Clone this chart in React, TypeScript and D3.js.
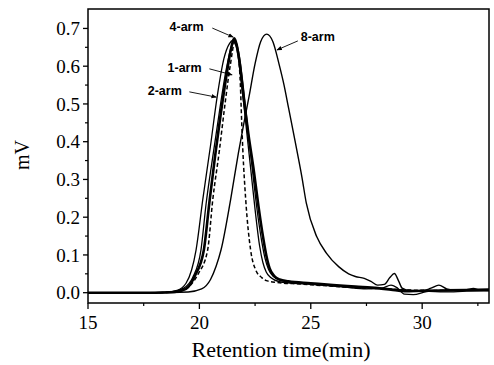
import React from "react";
import * as d3 from "d3";

// GPC traces, [retention time (min), signal (mV)]
const arm1: [number, number][] = [
  [15, 0], [18, 0], [19, 0.003], [19.5, 0.015], [19.95, 0.05], [20.37, 0.113], [20.6, 0.246],
  [20.9, 0.378], [21.15, 0.5], [21.38, 0.6], [21.6, 0.665], [21.75, 0.63], [21.84, 0.55],
  [21.9, 0.45], [21.95, 0.378], [22.08, 0.246], [22.3, 0.113], [22.53, 0.06], [22.8, 0.04],
  [23, 0.032], [23.5, 0.027], [24.5, 0.023], [25.5, 0.019], [26.5, 0.015], [27.5, 0.012],
  [28.5, 0.01], [29.5, 0.007], [30.5, 0.006], [31.5, 0.007], [33, 0.008],
];

const arm2: [number, number][] = [
  [15, 0], [17, 0], [18.5, 0.001], [19, 0.006], [19.4, 0.025], [19.65, 0.06], [19.85, 0.113],
  [20.15, 0.246], [20.5, 0.39], [20.8, 0.52], [21.1, 0.62], [21.35, 0.66], [21.5, 0.668],
  [21.7, 0.64], [21.9, 0.55], [22.1, 0.44], [22.3, 0.33], [22.5, 0.22], [22.7, 0.125],
  [22.85, 0.08], [23.0, 0.055], [23.2, 0.04], [23.6, 0.029], [24.5, 0.024], [25.5, 0.02],
  [26.5, 0.015], [27.5, 0.01], [28.2, 0.012], [28.6, 0.02], [28.9, 0.012], [29.2, -0.004],
  [29.6, -0.005], [30.2, 0.003], [31, 0.006], [32, 0.007], [33, 0.007],
];

const armX: [number, number][] = [
  [15, 0], [18, 0], [18.8, 0.003], [19.3, 0.012], [19.7, 0.04], [20.07, 0.113], [20.3, 0.235],
  [20.6, 0.36], [20.9, 0.48], [21.2, 0.59], [21.45, 0.655], [21.6, 0.668], [21.8, 0.625],
  [22.0, 0.53], [22.2, 0.42], [22.4, 0.315], [22.6, 0.215], [22.8, 0.135], [22.95, 0.09],
  [23.1, 0.062], [23.3, 0.044], [23.6, 0.034], [25, 0.023], [26, 0.019], [27, 0.015],
  [28, 0.012], [29, 0.008], [30, 0.004], [31, 0.002], [32, 0.004], [33, 0.005],
];

const arm4: [number, number][] = [
  [15, 0], [18, 0], [18.9, 0.002], [19.4, 0.01], [19.8, 0.045], [20.2, 0.113], [20.45, 0.24],
  [20.7, 0.36], [20.95, 0.47], [21.2, 0.57], [21.4, 0.64], [21.56, 0.674], [21.79, 0.616],
  [22.0, 0.51], [22.2, 0.42], [22.45, 0.32], [22.65, 0.23], [22.85, 0.15], [23.0, 0.1],
  [23.15, 0.065], [23.35, 0.045], [23.6, 0.035], [24, 0.03], [25, 0.025], [26, 0.02],
  [27, 0.016], [28, 0.012], [28.6, 0.008], [29.2, 0.004], [30, 0.005], [31, 0.006],
  [32, 0.007], [33, 0.008],
];

const arm8: [number, number][] = [
  [15, 0], [18, 0], [19.5, 0.002], [20.1, 0.01], [20.5, 0.035], [20.75, 0.07], [20.97, 0.113],
  [21.4, 0.246], [21.75, 0.37], [22.0, 0.45], [22.23, 0.52], [22.5, 0.607], [22.75, 0.665],
  [23.02, 0.685], [23.3, 0.665], [23.57, 0.607], [23.8, 0.55], [24.0, 0.49], [24.3, 0.4],
  [24.6, 0.307], [24.8, 0.237], [25.27, 0.148], [25.7, 0.105], [26.25, 0.069], [26.7, 0.05],
  [27.0, 0.043], [27.4, 0.038], [27.7, 0.03], [28.0, 0.02], [28.3, 0.022], [28.55, 0.04],
  [28.75, 0.051], [28.95, 0.03], [29.1, 0.012], [29.5, 0.005], [30, 0.005], [30.4, 0.012],
  [30.75, 0.02], [31.1, 0.01], [31.5, 0.006], [32, 0.008], [32.3, 0.011], [32.6, 0.007],
  [33, 0.006],
];

const xTicks = [15, 20, 25, 30];
const yTicks = [0, 0.1, 0.2, 0.3, 0.4, 0.5, 0.6, 0.7];

// labels: text anchor point and arrow (from -> tip), in data units
const labels = [
  { text: "4-arm", at: [18.66, 0.706], from: [20.58, 0.701], to: [21.52, 0.677] },
  { text: "1-arm", at: [18.57, 0.597], from: [20.45, 0.593], to: [21.47, 0.577] },
  { text: "2-arm", at: [17.68, 0.534], from: [19.55, 0.532], to: [20.76, 0.518] },
  { text: "8-arm", at: [24.55, 0.677], from: [24.42, 0.667], to: [23.48, 0.643] },
];

const W = 494;
const H = 365;
const m = { left: 88, right: 5, top: 9, bottom: 62 };

export default function App() {
  const x = d3.scaleLinear().domain([15, 33]).range([m.left, W - m.right]);
  const y = d3.scaleLinear().domain([-0.0273, 0.7515]).range([H - m.bottom, m.top]);
  const line = d3
    .line<[number, number]>()
    .x((d) => x(d[0]))
    .y((d) => y(d[1]))
    .curve(d3.curveMonotoneX);

  const xMinor = d3.range(15, 33.01, 2.5).filter((v) => !xTicks.includes(v));
  const yMinor = d3.range(0.05, 0.75, 0.1);
  const serif = "'Liberation Serif', 'Times New Roman', serif";

  const series = [
    { d: arm2, w: 1.3, dash: undefined },
    { d: armX, w: 1.3, dash: undefined },
    { d: arm8, w: 1.4, dash: undefined },
    { d: arm4, w: 2.6, dash: undefined },
    { d: arm1, w: 1.5, dash: "4,2.5" },
  ];

  return (
    <svg
      width={W}
      height={H}
      style={{ position: "absolute", left: 0, top: 0, background: "#fff" }}
    >
      <defs>
        <marker id="ah" viewBox="0 0 10 10" refX="9" refY="5" markerWidth="6" markerHeight="6" orient="auto">
          <path d="M0,1 L10,5 L0,9 z" fill="#000" />
        </marker>
        <clipPath id="plot">
          <rect x={m.left} y={m.top} width={W - m.left - m.right} height={H - m.top - m.bottom} />
        </clipPath>
      </defs>

      <g clipPath="url(#plot)">
        {series.map((s, i) => (
          <path
            key={i}
            d={line(s.d) || ""}
            fill="none"
            stroke="#000"
            strokeWidth={s.w}
            strokeDasharray={s.dash}
            strokeLinejoin="round"
          />
        ))}
      </g>

      {/* frame */}
      <rect
        x={m.left}
        y={m.top}
        width={W - m.left - m.right}
        height={H - m.top - m.bottom}
        fill="none"
        stroke="#000"
        strokeWidth={1.5}
      />

      {/* x axis ticks */}
      {xTicks.map((t) => (
        <g key={t}>
          <line x1={x(t)} x2={x(t)} y1={y.range()[0]} y2={y.range()[0] + 6} stroke="#000" strokeWidth={1.3} />
          <text x={x(t)} y={329} textAnchor="middle" fontFamily={serif} fontSize={19}>
            {t}
          </text>
        </g>
      ))}
      {xMinor.map((t) => (
        <line key={t} x1={x(t)} x2={x(t)} y1={y.range()[0]} y2={y.range()[0] + 3} stroke="#000" strokeWidth={1.2} />
      ))}

      {/* y axis ticks */}
      {yTicks.map((v) => (
        <g key={v}>
          <line x1={m.left - 5} x2={m.left} y1={y(v)} y2={y(v)} stroke="#000" strokeWidth={1.3} />
          <text x={80} y={y(v)} dy="0.35em" textAnchor="end" fontFamily={serif} fontSize={19}>
            {d3.format(".1f")(v)}
          </text>
        </g>
      ))}
      {yMinor.map((v) => (
        <line key={v} x1={m.left - 3} x2={m.left} y1={y(v)} y2={y(v)} stroke="#000" strokeWidth={1.2} />
      ))}

      {/* axis titles */}
      <text x={281} y={357} textAnchor="middle" fontFamily={serif} fontSize={22}>
        Retention time(min)
      </text>
      <text
        transform={`translate(29,155) rotate(-90)`}
        textAnchor="middle"
        fontFamily={serif}
        fontSize={20}
      >
        mV
      </text>

      {/* annotations */}
      {labels.map((l) => (
        <g key={l.text}>
          <text
            x={x(l.at[0])}
            y={y(l.at[1])}
            dy="0.35em"
            fontFamily="'Liberation Sans', Arial, sans-serif"
            fontWeight="bold"
            fontSize={12.5}
          >
            {l.text}
          </text>
          <line
            x1={x(l.from[0])}
            y1={y(l.from[1])}
            x2={x(l.to[0])}
            y2={y(l.to[1])}
            stroke="#000"
            strokeWidth={0.9}
            markerEnd="url(#ah)"
          />
        </g>
      ))}
    </svg>
  );
}
